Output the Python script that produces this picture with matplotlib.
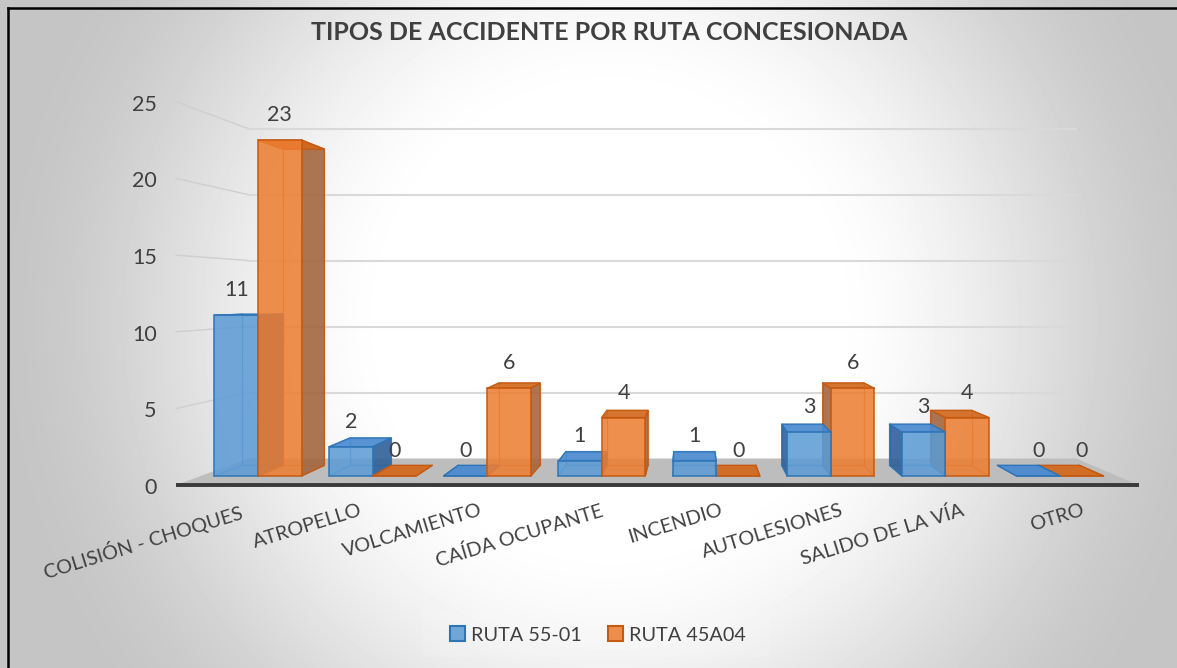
import numpy as np
import matplotlib
matplotlib.use("Agg")
import matplotlib.pyplot as plt
from matplotlib.patches import Polygon, Patch, Rectangle
from matplotlib.lines import Line2D

plt.rcParams['font.family'] = ['Lato', 'DejaVu Sans']

# Datos
categories = ["COLISIÓN - CHOQUES", "ATROPELLO", "VOLCAMIENTO", "CAÍDA OCUPANTE",
              "INCENDIO", "AUTOLESIONES", "SALIDO DE LA VÍA", "OTRO"]
ruta_55_01 = [11, 2, 0, 1, 1, 3, 3, 0]
ruta_45a04 = [23, 0, 6, 4, 0, 6, 4, 0]
series_names = ["RUTA 55-01", "RUTA 45A04"]
y_ticks = [0, 5, 10, 15, 20, 25]

TEXT = '#404040'

# pseudo 3D: simple perspective around a vanishing point (data units)
VP = (3.78, 12.47)
S_BACK = 0.9416     # back face of the bars
S_WALL = 0.904      # back wall
S_FRONT = 1.05      # front edge of the floor / axis labels
FLOOR_L, FLOOR_R = -0.5, 7.5
BAR_W = 0.38


def proj(x, y, s):
    return VP[0] + (x - VP[0]) * s, VP[1] + (y - VP[1]) * s


W, H = 1177, 668
fig = plt.figure(figsize=(W / 100, H / 100), dpi=100)

# radial grey background
bg = fig.add_axes([0, 0, 1, 1])
yy, xx = np.mgrid[0:H, 0:W]
r = np.sqrt(((xx - 610) / 590.0) ** 2 + ((yy - 320) / 600.0) ** 2)
t = np.clip((r - 0.35) / 0.72, 0, 1)
shade = 1 - 0.23 * t * t * (3 - 2 * t)
bg.imshow(shade, cmap='gray', vmin=0, vmax=1, extent=[0, 1, 0, 1], aspect='auto', origin='upper')
bg.axis('off')

ax = fig.add_axes([0, 0, 1, 1])
ax.set_xlim(-2.252, 8.021)
ax.set_ylim(-13.15, 32.60)
ax.axis('off')
ax.patch.set_alpha(0)

# floor
floor = [proj(FLOOR_L, 0, S_FRONT), proj(FLOOR_R, 0, S_FRONT),
         proj(FLOOR_R, 0, S_WALL), proj(FLOOR_L, 0, S_WALL)]
ax.add_patch(Polygon(floor, closed=True, facecolor='#bdbdbd', edgecolor='none', zorder=2))
fx0, fy0 = proj(FLOOR_L, 0, S_FRONT)
fx1, fy1 = proj(FLOOR_R, 0, S_FRONT)
ax.plot([fx0, fx1], [fy0, fy1], color='#3a3a3a', lw=2.8, solid_capstyle='butt', zorder=3)

# gridlines on the side wall and back wall
for v in y_ticks[1:]:
    a = proj(FLOOR_L, v, S_FRONT)
    b = proj(FLOOR_L, v, S_WALL)
    c = proj(FLOOR_R, v, S_WALL)
    ax.plot([a[0], b[0]], [a[1], b[1]], color='#cfcfcf', lw=1.0, zorder=1)
    ax.plot([b[0], c[0]], [b[1], c[1]], color='#d9d9d9', lw=1.5, zorder=1)

for v in y_ticks:
    px, py = proj(FLOOR_L, v, S_FRONT)
    ax.text(px - 0.17, py - 0.2, str(v), ha='right', va='center',
            fontsize=15.5, color=TEXT)

x_idx = np.arange(len(categories))
styles = [
    dict(front='#5b9bd5', edge='#2e75b6', side='#2f6099', top='#4a8ad0'),
    dict(front='#ed7d31', edge='#c55a11', side='#a4673f', top='#d2691e'),
]

bars = [
    ax.bar(x_idx - BAR_W, ruta_55_01, BAR_W, align='edge'),
    ax.bar(x_idx, ruta_45a04, BAR_W, align='edge'),
]

# painter's order: farthest from the vanishing point first
items = []
for k, cont in enumerate(bars):
    vals = [ruta_55_01, ruta_45a04][k]
    for i, rect in enumerate(cont.patches):
        items.append((abs(rect.get_x() + BAR_W / 2 - VP[0]), k, rect, vals[i]))
items.sort(key=lambda it: -it[0])

for rank, (_, k, rect, v) in enumerate(items):
    st = styles[k]
    z = 10 + rank
    x0 = rect.get_x()
    x1 = x0 + rect.get_width()

    # hidden edges seen through the faces
    back = [proj(x0, 0, S_BACK), proj(x1, 0, S_BACK), proj(x1, v, S_BACK), proj(x0, v, S_BACK)]
    ax.add_patch(Polygon(back, closed=True, fill=False, edgecolor=st['edge'],
                         lw=0.9, alpha=0.7, zorder=z))
    for (xe, ye) in [(x0, 0), (x1, 0), (x0, v), (x1, v)]:
        p0 = proj(xe, ye, 1.0)
        p1 = proj(xe, ye, S_BACK)
        ax.plot([p0[0], p1[0]], [p0[1], p1[1]], color=st['edge'], lw=0.9,
                alpha=0.7, zorder=z)

    if v > 0:
        # visible side face
        if x1 < VP[0]:
            side = [proj(x1, 0, 1.0), proj(x1, v, 1.0), proj(x1, v, S_BACK), proj(x1, 0, S_BACK)]
        elif x0 > VP[0]:
            side = [proj(x0, 0, 1.0), proj(x0, v, 1.0), proj(x0, v, S_BACK), proj(x0, 0, S_BACK)]
        else:
            side = None
        if side is not None:
            ax.add_patch(Polygon(side, closed=True, facecolor=st['side'], edgecolor=st['edge'],
                                 lw=1.0, alpha=0.9, zorder=z + 0.1))
    # top face
    top = [proj(x0, v, 1.0), proj(x1, v, 1.0), proj(x1, v, S_BACK), proj(x0, v, S_BACK)]
    ax.add_patch(Polygon(top, closed=True, facecolor=st['top'], edgecolor=st['edge'],
                         lw=1.0, alpha=0.92 if v > 0 else 0.95, zorder=z + 0.2))
    # front face
    rect.set_facecolor(matplotlib.colors.to_rgba(st['front'], 0.86))
    rect.set_edgecolor(st['edge'])
    rect.set_linewidth(1.1)
    rect.set_zorder(z + 0.3)

# data labels
for k, cont in enumerate(bars):
    vals = [ruta_55_01, ruta_45a04][k]
    for rect, v in zip(cont.patches, vals):
        ax.text(rect.get_x() + BAR_W / 2, v + 1.71, str(v), ha='center', va='center',
                fontsize=15.5, color=TEXT, zorder=100)

# category labels
for i, name in enumerate(categories):
    px, _ = proj(i, 0, S_FRONT)
    ax.text(px + 0.02, -1.75, name, rotation=17, rotation_mode='anchor', ha='right', va='top',
            fontsize=14.3, color=TEXT, zorder=100)

# title
fig.text(609.5 / W, 1 - 32 / H, "TIPOS DE ACCIDENTE POR RUTA CONCESIONADA",
         ha='center', va='center', fontsize=18, fontweight='bold', color=TEXT)

# legend
fig.patches.append(Rectangle((422 / W, 1 - 657 / H), 348 / W, 45 / H, transform=fig.transFigure,
                             facecolor='white', alpha=0.12, edgecolor='none', zorder=1))
handles = [Patch(facecolor=matplotlib.colors.to_rgba(st['front'], 0.86), edgecolor=st['edge'], lw=1.5)
           for st in styles]
fig.legend(handles, series_names, loc='center', bbox_to_anchor=(598 / W, 1 - 635 / H),
           ncol=2, frameon=False, fontsize=14.3, handlelength=0.75, handleheight=0.75,
           handletextpad=0.3, columnspacing=1.3, labelcolor=TEXT)

# chart frame (top and left edges)
fig.add_artist(Line2D([7.5 / W, 7.5 / W], [0, 1 - 7.5 / H], color='black', lw=1.8))
fig.add_artist(Line2D([7.5 / W, 1], [1 - 7.5 / H, 1 - 7.5 / H], color='black', lw=1.8))

fig.savefig('out.png', dpi=100)
